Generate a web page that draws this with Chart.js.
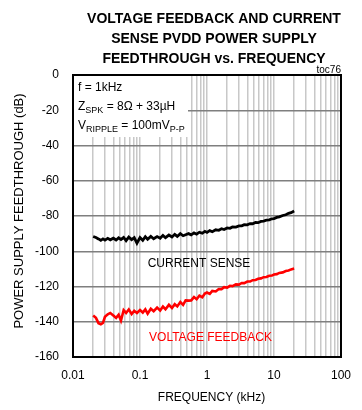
<!DOCTYPE html>
<html>
<head>
<meta charset="utf-8">
<script src="https://cdn.jsdelivr.net/npm/chart.js@4"></script>
<style>
  body { margin: 0; background: #fff; }
  canvas { display: block; }
</style>
</head>
<body>
<canvas id="chart" width="362" height="410"></canvas>
<script>
// frequency points in kHz
const freq = [
  0.020, 0.022, 0.024, 0.026, 0.028, 0.030, 0.033, 0.036, 0.040, 0.044,
  0.048, 0.052, 0.057, 0.062, 0.068, 0.075, 0.082, 0.090, 0.10, 0.11,
  0.12, 0.13, 0.145, 0.16, 0.18, 0.20, 0.22, 0.24, 0.27, 0.30,
  0.33, 0.36, 0.40, 0.44, 0.48, 0.53, 0.58, 0.64, 0.70, 0.77,
  0.85, 0.93, 1.0, 1.1, 1.2, 1.35, 1.5, 1.65, 1.8, 2.0,
  2.2, 2.4, 2.7, 3.0, 3.3, 3.6, 4.0, 4.4, 4.8, 5.3,
  5.8, 6.4, 7.0, 7.7, 8.5, 9.3, 10, 11, 12, 13.5,
  15, 16.5, 18, 20
];

// current sense feedthrough (dB)
const currentSense = [
  -91.6, -92.2, -93.0, -93.8, -93.0, -93.7, -92.7, -93.5, -92.6, -93.6,
  -92.4, -93.3, -92.2, -94.0, -92.0, -93.4, -92.3, -95.4, -92.2, -93.8,
  -91.8, -93.2, -91.6, -92.9, -91.7, -92.6, -91.0, -92.3, -90.8, -91.9,
  -90.4, -91.6, -90.0, -91.2, -90.6, -90.0, -90.7, -89.6, -90.3, -89.2,
  -89.8, -88.7, -89.3, -88.3, -88.9, -87.8, -88.1, -87.2, -87.7, -86.8,
  -87.0, -86.2, -86.3, -85.6, -85.6, -84.9, -85.0, -84.3, -84.4, -83.7,
  -83.8, -83.1, -82.9, -82.4, -82.2, -81.6, -81.5, -80.8, -80.5, -79.7,
  -79.3, -78.5, -78.1, -77.2
];

// voltage feedback feedthrough (dB)
const voltageFeedback = [
  -136.5, -137.8, -140.8, -141.4, -140.6, -137.2, -135.8, -135.0, -136.4, -137.8,
  -136.0, -139.3, -133.4, -135.0, -133.0, -135.6, -133.8, -135.0, -133.4, -134.8,
  -133.0, -135.4, -132.6, -134.0, -132.0, -133.6, -131.4, -132.9, -130.4, -132.2,
  -130.0, -131.3, -128.8, -130.4, -127.9, -128.0, -127.9, -126.0, -127.2, -125.2,
  -126.1, -124.0, -123.4, -124.2, -122.5, -122.8, -121.4, -121.5, -120.4, -120.6,
  -119.6, -119.8, -118.8, -118.9, -118.0, -118.1, -117.2, -117.2, -116.4, -116.3,
  -115.6, -115.4, -114.7, -114.6, -113.9, -113.8, -113.2, -113.0, -112.3, -112.0,
  -111.2, -110.9, -110.3, -109.8
];

const xTickLabels = ['0.01', '0.1', '1', '10', '100'];
const decades = [0.01, 0.1, 1, 10];

const titleLines = [
  'VOLTAGE FEEDBACK AND CURRENT',
  'SENSE PVDD POWER SUPPLY',
  'FEEDTHROUGH vs. FREQUENCY'
];

// gridline positions: 1..9 in every decade, plus 100
const gridValues = [];
decades.forEach(d => {
  for (let m = 1; m <= 9; m++) gridValues.push(+(m * d).toPrecision(3));
});
gridValues.push(100);

const FONT = '"Liberation Sans", Arial, sans-serif';

function drawRuns(ctx, x, y, runs) {
  ctx.textAlign = 'left';
  ctx.textBaseline = 'alphabetic';
  for (const r of runs) {
    ctx.font = (r.sub ? '9px ' : '12px ') + FONT;
    ctx.fillText(r.t, x, r.sub ? y + 3 : y);
    x += ctx.measureText(r.t).width;
  }
}

const decor = {
  id: 'decor',
  beforeDatasetsDraw(chart) {
    // white panel behind the test conditions
    const a = chart.chartArea;
    const ctx = chart.ctx;
    ctx.save();
    ctx.fillStyle = '#fff';
    ctx.fillRect(a.left + 1, a.top + 1, 114, 61);
    ctx.restore();
  },
  afterDraw(chart) {
    const a = chart.chartArea;
    const ctx = chart.ctx;
    ctx.save();

    // plot frame
    ctx.strokeStyle = '#000';
    ctx.lineWidth = 2;
    ctx.strokeRect(a.left, a.top, a.right - a.left, a.bottom - a.top);

    ctx.fillStyle = '#000';
    ctx.textAlign = 'center';
    ctx.textBaseline = 'alphabetic';

    ctx.font = 'bold 14px ' + FONT;
    titleLines.forEach((line, i) => ctx.fillText(line, 214, 22.5 + i * 20));

    ctx.font = '10px ' + FONT;
    ctx.textAlign = 'right';
    ctx.fillText('toc76', a.right, 73);

    ctx.font = '12px ' + FONT;
    ctx.textAlign = 'center';
    ctx.fillText('FREQUENCY (kHz)', 211.5, 401);

    ctx.save();
    ctx.translate(23, 211);
    ctx.rotate(-Math.PI / 2);
    ctx.font = '13px ' + FONT;
    ctx.fillText('POWER SUPPLY FEEDTHROUGH (dB)', 0, 0);
    ctx.restore();

    ctx.font = '12px ' + FONT;
    ctx.fillText('CURRENT SENSE', 199, 267);
    ctx.fillStyle = '#ff0000';
    ctx.fillText('VOLTAGE FEEDBACK', 210.5, 341);

    ctx.fillStyle = '#000';
    drawRuns(ctx, 78, 91, [{ t: 'f = 1kHz' }]);
    drawRuns(ctx, 78, 110, [{ t: 'Z' }, { t: 'SPK', sub: true }, { t: ' = 8\u03A9 + 33\u00B5H' }]);
    drawRuns(ctx, 78, 129, [{ t: 'V' }, { t: 'RIPPLE', sub: true }, { t: ' = 100mV' }, { t: 'P-P', sub: true }]);

    ctx.restore();
  }
};

const toPoints = ys => freq.map((f, i) => ({ x: f, y: ys[i] }));

new Chart(document.getElementById('chart'), {
  type: 'line',
  data: {
    datasets: [
      {
        label: 'CURRENT SENSE',
        data: toPoints(currentSense),
        borderColor: '#000',
        borderWidth: 2.8,
        pointRadius: 0,
        tension: 0
      },
      {
        label: 'VOLTAGE FEEDBACK',
        data: toPoints(voltageFeedback),
        borderColor: '#ff0000',
        borderWidth: 2.6,
        pointRadius: 0,
        tension: 0
      }
    ]
  },
  options: {
    responsive: false,
    animation: false,
    devicePixelRatio: 1,
    layout: { padding: { top: 75, right: 10, left: 0, bottom: 0 } },
    plugins: {
      legend: { display: false },
      title: { display: false },
      tooltip: { enabled: false }
    },
    scales: {
      x: {
        type: 'logarithmic',
        min: 0.01,
        max: 100,
        afterBuildTicks: s => { s.ticks = gridValues.map(v => ({ value: v })); },
        afterFit: s => { s.height = 53; },
        border: { display: false },
        grid: { color: '#c8c8c8', lineWidth: 1.5, drawTicks: false },
        ticks: {
          autoSkip: false,
          maxRotation: 0,
          padding: 11,
          color: '#000',
          font: { family: FONT, size: 12 },
          callback: v => {
            const k = Math.log10(v);
            return Math.abs(k - Math.round(k)) < 1e-6 ? xTickLabels[Math.round(k) + 2] : '';
          }
        }
      },
      y: {
        min: -160,
        max: 0,
        afterFit: s => { s.width = 73; },
        border: { display: false },
        grid: { color: '#7f7f7f', lineWidth: 1.5, drawTicks: false },
        ticks: {
          stepSize: 20,
          padding: 14,
          color: '#000',
          font: { family: FONT, size: 12 }
        }
      }
    }
  },
  plugins: [decor]
});
</script>
</body>
</html>
